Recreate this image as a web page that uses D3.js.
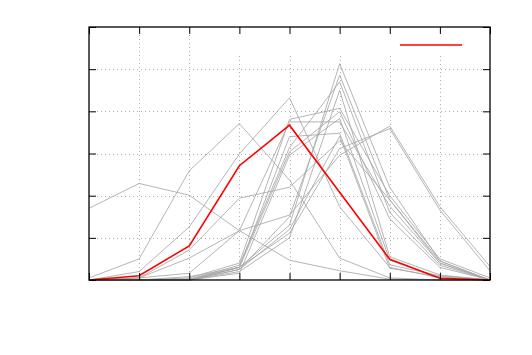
<!DOCTYPE html>
<html>
<head>
<meta charset="utf-8">
<script src="https://d3js.org/d3.v7.min.js"></script>
<style>
  body { margin: 0; background: #fff; }
  svg { display: block; }
</style>
</head>
<body>
<div id="chart"></div>
<script>
// x positions (9 steps) and the highlighted series
var steps = [0, 1, 2, 3, 4, 5, 6, 7, 8];
var redSeries = [0, 0.1, 0.81, 2.71, 3.67, 2.08, 0.49, 0.04, 0];

// grey background series
var grey01 = [1.7, 2.29, 2.01, 1.17, 0.47, 0.22, 0.02, 0, 0];
var grey02 = [0.05, 0.5, 2.59, 3.71, 2.37, 0.52, 0.05, 0, 0];
var grey03 = [0, 0.2, 1.26, 2.99, 4.32, 1.74, 0.3, 0.05, 0];
var grey04 = [0, 0.05, 0.71, 1.94, 2.2, 3.3, 1.9, 0.45, 0];
var grey05 = [0, 0.05, 0.52, 1.17, 1.54, 2.96, 3.65, 1.74, 0.32];
var grey06 = [0, 0, 0.02, 0.3, 1.11, 3.12, 3.59, 1.66, 0.22];
var grey07 = [0, 0, 0, 0.3, 1.3, 5.13, 2.2, 0.45, 0];
var grey08 = [0, 0, 0, 0.25, 1.5, 4.86, 1.9, 0.4, 0];
var grey09 = [0, 0, 0.02, 0.35, 3.14, 4.7, 1.6, 0.35, 0];
var grey10 = [0, 0, 0, 0.2, 1.0, 4.5, 0.55, 0.12, 0];
var grey11 = [0, 0, 0.05, 0.4, 3.81, 4.07, 2.0, 0.5, 0.05];
var grey12 = [0, 0, 0, 0.3, 3.04, 3.99, 1.45, 0.3, 0];
var grey13 = [0, 0, 0, 0.16, 2.96, 3.83, 0.47, 0.05, 0];
var grey14 = [0, 0.05, 0.16, 1.17, 3.75, 3.75, 1.75, 0.4, 0];
var grey15 = [0, 0, 0.08, 0.3, 3.4, 3.48, 0.36, 0.1, 0];
var grey16 = [0, 0, 0, 0.25, 1.2, 3.41, 0.28, 0.08, 0];
var greySeries = [grey01, grey02, grey03, grey04, grey05, grey06, grey07, grey08,
    grey09, grey10, grey11, grey12, grey13, grey14, grey15, grey16];

var yTicks = [0, 1, 2, 3, 4, 5, 6];

// Size variables
var width = 532, height = 355;
var plotLeft = 89, plotRight = 490, plotTop = 27, plotBottom = 280;

var svg = d3.select('#chart')
    .append('svg')
    .attr('width', width)
    .attr('height', height);

var xScale = d3.scaleLinear().domain([0, 8]).range([plotLeft, plotRight]);
var yScale = d3.scaleLinear().domain([0, 6]).range([plotBottom, plotTop]);

// grid (vertical lines under the key box start lower)
var grid = svg.append('g').attr('class', 'grid');
grid.selectAll('line.gx')
    .data(steps.slice(1, 8))
    .enter()
    .append('line')
    .attr('x1', (d) => Math.round(xScale(d)) + 0.5)
    .attr('x2', (d) => Math.round(xScale(d)) + 0.5)
    .attr('y1', (d) => d >= 3 ? 56 : plotTop)
    .attr('y2', plotBottom)
    .attr('stroke', '#b0b0b0')
    .attr('stroke-width', 1)
    .attr('stroke-dasharray', '1,3');
grid.selectAll('line.gy')
    .data(yTicks.slice(1, 6))
    .enter()
    .append('line')
    .attr('x1', plotLeft)
    .attr('x2', plotRight)
    .attr('y1', (d) => Math.round(yScale(d)) + 0.5)
    .attr('y2', (d) => Math.round(yScale(d)) + 0.5)
    .attr('stroke', '#b0b0b0')
    .attr('stroke-width', 1)
    .attr('stroke-dasharray', '1,3');

// series
var line = d3.line()
    .x((d, i) => xScale(steps[i]))
    .y((d) => yScale(d));

svg.append('g')
    .selectAll('path')
    .data(greySeries)
    .enter()
    .append('path')
    .attr('d', line)
    .attr('fill', 'none')
    .attr('stroke', '#a8a8a8')
    .attr('stroke-width', 0.85);

svg.append('path')
    .datum(redSeries)
    .attr('d', line)
    .attr('fill', 'none')
    .attr('stroke', '#ff0000')
    .attr('stroke-width', 1.6);

// axes with inward ticks, no labels
var tickLen = 7;
svg.append('g')
    .attr('transform', `translate(0, ${plotBottom})`)
    .call(d3.axisTop(xScale).tickValues(steps).tickSize(tickLen).tickFormat(''));
svg.append('g')
    .attr('transform', `translate(0, ${plotTop})`)
    .call(d3.axisBottom(xScale).tickValues(steps).tickSize(tickLen).tickFormat(''));
svg.append('g')
    .attr('transform', `translate(${plotLeft}, 0)`)
    .call(d3.axisRight(yScale).tickValues(yTicks).tickSize(tickLen).tickFormat(''));
svg.append('g')
    .attr('transform', `translate(${plotRight}, 0)`)
    .call(d3.axisLeft(yScale).tickValues(yTicks).tickSize(tickLen).tickFormat(''));
svg.selectAll('.domain').remove();
svg.selectAll('.tick line').attr('stroke', '#000').attr('stroke-width', 1);

// border
svg.append('rect')
    .attr('x', plotLeft)
    .attr('y', plotTop)
    .attr('width', plotRight - plotLeft)
    .attr('height', plotBottom - plotTop)
    .attr('fill', 'none')
    .attr('stroke', '#000')
    .attr('stroke-width', 1.3);

// legend key sample
svg.append('line')
    .attr('x1', 400)
    .attr('x2', 462)
    .attr('y1', 45)
    .attr('y2', 45)
    .attr('stroke', '#ff0000')
    .attr('stroke-width', 1.6);
</script>
</body>
</html>
